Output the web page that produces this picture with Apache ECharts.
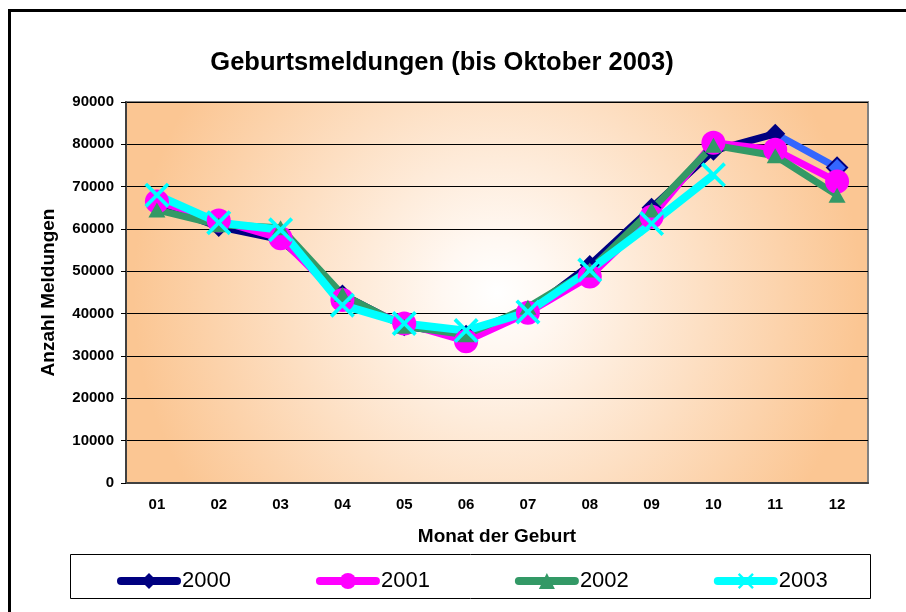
<!DOCTYPE html>
<html>
<head>
<meta charset="utf-8">
<script src="https://cdn.jsdelivr.net/npm/echarts@6/dist/echarts.min.js"></script>
<style>
  html, body { margin: 0; padding: 0; background: #fff; }
  #main { width: 906px; height: 612px; }
</style>
</head>
<body>
<div id="main"></div>
<script>
// Monate und Werte je Jahr
const months = ['01', '02', '03', '04', '05', '06', '07', '08', '09', '10', '11', '12'];
const y2000 = [66000, 60500, 57500, 44500, 37000, 35000, 40500, 51500, 65000, 78500, 82500, 74500];
const y2001 = [66500, 62000, 57800, 43200, 37700, 33500, 40200, 48800, 62900, 80400, 78700, 71200];
const y2002 = [64500, 61000, 60300, 44500, 37000, 35000, 41500, 50300, 64500, 79800, 77300, 68000];
const y2003 = [68000, 61500, 59800, 42000, 37700, 36000, 40400, 50300, 61300, 72800];
const yTicks = [0, 10000, 20000, 30000, 40000, 50000, 60000, 70000, 80000, 90000];

const FONT = "'Liberation Sans', Arial, sans-serif";
const crossPath = 'path://M0,2.5L2.5,0L12,9.5L21.5,0L24,2.5L14.5,12L24,21.5L21.5,24L12,14.5L2.5,24L0,21.5L9.5,12Z';

const chart = echarts.init(document.getElementById('main'), null, { renderer: 'canvas' });

// letzter Abschnitt 2000 (11 -> 12) ist hellblau
const last2000 = (months.length - 2) / (months.length - 1);

const option = {
  animation: false,
  title: {
    text: 'Geburtsmeldungen (bis Oktober 2003)',
    left: 437,
    top: 45,
    textAlign: 'center',
    textStyle: { fontFamily: FONT, fontWeight: 'bold', fontSize: 25.5, color: '#000' }
  },
  grid: {
    left: 126, top: 102, right: 38, bottom: 129,
    show: true,
    borderColor: '#808080',
    borderWidth: 2,
    backgroundColor: new echarts.graphic.RadialGradient(0.5, 0.5, 0.95, [
      { offset: 0, color: '#ffffff' },
      { offset: 0.15, color: '#fff8f2' },
      { offset: 1, color: '#fbc693' }
    ])
  },
  legend: {
    left: 112,
    top: 565,
    itemWidth: 56,
    itemHeight: 20,
    itemGap: 85,
    lineStyle: { width: 8, cap: 'round' },
    textStyle: { fontFamily: FONT, fontSize: 22, color: '#000' },
    data: [
      { name: '2000', lineStyle: { color: '#000080', width: 8, cap: 'round' } },
      { name: '2001' },
      { name: '2002' },
      { name: '2003' }
    ]
  },
  xAxis: {
    type: 'category',
    data: months,
    boundaryGap: true,
    name: 'Monat der Geburt',
    nameLocation: 'middle',
    nameGap: 44,
    nameTextStyle: { fontFamily: FONT, fontWeight: 'bold', fontSize: 19, color: '#000' },
    axisLine: { lineStyle: { color: '#404040', width: 2 } },
    axisTick: { length: 5, lineStyle: { color: '#000' } },
    axisLabel: { margin: 14, fontFamily: FONT, fontWeight: 'bold', fontSize: 15, color: '#000' }
  },
  yAxis: {
    type: 'value',
    min: yTicks[0],
    max: yTicks[yTicks.length - 1],
    interval: 10000,
    name: 'Anzahl Meldungen',
    nameLocation: 'middle',
    nameGap: 68,
    nameTextStyle: { fontFamily: FONT, fontWeight: 'bold', fontSize: 19, color: '#000' },
    axisLine: { show: true, lineStyle: { color: '#404040', width: 2 } },
    axisTick: { show: true, length: 5, lineStyle: { color: '#000' } },
    axisLabel: {
      margin: 12, fontFamily: FONT, fontWeight: 'bold', fontSize: 15, color: '#000',
      formatter: v => String(v)
    },
    splitLine: { lineStyle: { color: '#000', width: 1 } }
  },
  graphic: [
    {
      type: 'rect', z: -10, silent: true,
      shape: { x: 9.5, y: 10.5, width: 1000, height: 1000 },
      style: { fill: 'none', stroke: '#000', lineWidth: 3 }
    },
    {
      type: 'rect', z: -10, silent: true,
      shape: { x: 70.5, y: 554.5, width: 800, height: 44 },
      style: { fill: '#fff', stroke: '#000', lineWidth: 1 }
    }
  ],
  series: [
    {
      name: '2000',
      type: 'line',
      data: y2000.map((v, i) => i === y2000.length - 1
        ? { value: v, itemStyle: { color: '#3366ff', borderColor: '#000080', borderWidth: 2 } }
        : v),
      symbol: 'diamond',
      symbolSize: [20, 20],
      itemStyle: { color: '#000080' },
      lineStyle: {
        width: 7,
        color: new echarts.graphic.LinearGradient(0, 0, 1, 0, [
          { offset: 0, color: '#000080' },
          { offset: last2000, color: '#000080' },
          { offset: last2000, color: '#3366ff' },
          { offset: 1, color: '#3366ff' }
        ])
      }
    },
    {
      name: '2001',
      type: 'line',
      data: y2001,
      symbol: 'circle',
      symbolSize: 24,
      itemStyle: { color: '#ff00ff' },
      lineStyle: { width: 7, color: '#ff00ff' }
    },
    {
      name: '2002',
      type: 'line',
      data: y2002,
      symbol: 'triangle',
      symbolSize: [17, 15],
      itemStyle: { color: '#339966' },
      lineStyle: { width: 7, color: '#339966' }
    },
    {
      name: '2003',
      type: 'line',
      data: y2003,
      symbol: crossPath,
      symbolSize: 25,
      itemStyle: { color: '#00ffff' },
      lineStyle: { width: 8, color: '#00ffff' }
    }
  ]
};

chart.setOption(option);
</script>
</body>
</html>
